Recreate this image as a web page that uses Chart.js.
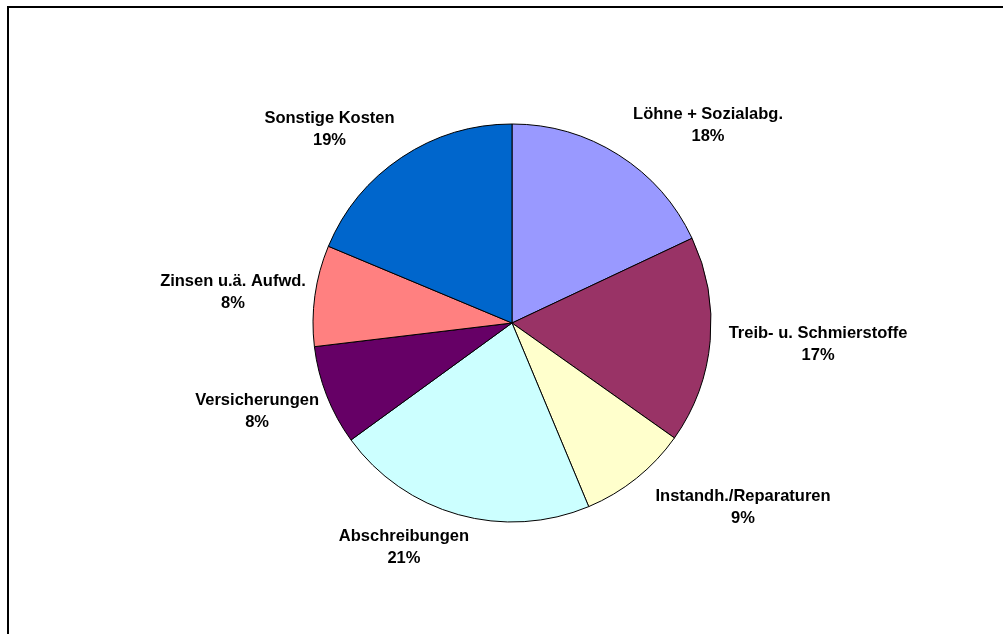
<!DOCTYPE html>
<html>
<head>
<meta charset="utf-8">
<script src="https://cdn.jsdelivr.net/npm/chart.js@4/dist/chart.umd.min.js"></script>
<style>
  html, body { margin: 0; padding: 0; background: #ffffff; }
  #wrap { width: 1003px; height: 634px; position: relative; }
</style>
</head>
<body>
<div id="wrap"><canvas id="c" width="1003" height="634"></canvas></div>
<script>
// ---- data ----
const categories = [
  "Löhne + Sozialabg.",
  "Treib- u. Schmierstoffe",
  "Instandh./Reparaturen",
  "Abschreibungen",
  "Versicherungen",
  "Zinsen u.ä. Aufwd.",
  "Sonstige Kosten"
];
const values = [18.0, 16.8, 8.9, 21.3, 8.1, 8.2, 18.7];

// ---- styles / layout ----
const sliceColors = ["#9999FF", "#993366", "#FFFFCC", "#CCFFFF", "#660066", "#FF8080", "#0066CC"];
// label block centre relative to pie centre, in units of the pie radius
const labelOffsets = [
  [0.985, -1.000],
  [1.538, 0.100],
  [1.161, 0.920],
  [-0.543, 1.121],
  [-1.281, 0.437],
  [-1.402, -0.161],
  [-0.917, -0.982]
];

const frame = {
  id: 'frame',
  beforeDraw(chart) {
    const ctx = chart.ctx;
    ctx.save();
    ctx.fillStyle = '#ffffff';
    ctx.fillRect(0, 0, chart.width, chart.height);
    ctx.strokeStyle = '#000000';
    ctx.lineWidth = 2;
    ctx.strokeRect(8, 7, chart.width + 20, chart.height + 20);
    ctx.restore();
  }
};

const labels = {
  id: 'labels',
  afterDatasetsDraw(chart) {
    const ctx = chart.ctx;
    const meta = chart.getDatasetMeta(0);
    const data = chart.data.datasets[0].data;
    const total = data.reduce((a, b) => a + b, 0);
    ctx.save();
    ctx.fillStyle = '#000000';
    ctx.font = 'bold 16.5px "Liberation Sans", Arial, sans-serif';
    ctx.textAlign = 'center';
    ctx.textBaseline = 'middle';
    meta.data.forEach((arc, i) => {
      const r = arc.outerRadius;
      const x = arc.x + labelOffsets[i][0] * r;
      const y = arc.y + labelOffsets[i][1] * r + 1.5;
      const pct = Math.round(data[i] / total * 100) + '%';
      ctx.fillText(chart.data.labels[i], x, y - 11);
      ctx.fillText(pct, x, y + 11);
    });
    ctx.restore();
  }
};

new Chart(document.getElementById('c'), {
  type: 'pie',
  data: {
    labels: categories,
    datasets: [{
      data: values,
      backgroundColor: sliceColors,
      borderColor: '#000000',
      borderWidth: 1
    }]
  },
  options: {
    responsive: false,
    animation: false,
    radius: 199,
    layout: { padding: { left: 21, right: 0, top: 12, bottom: 0 } },
    plugins: {
      legend: { display: false },
      tooltip: { enabled: false }
    }
  },
  plugins: [frame, labels]
});
</script>
</body>
</html>
